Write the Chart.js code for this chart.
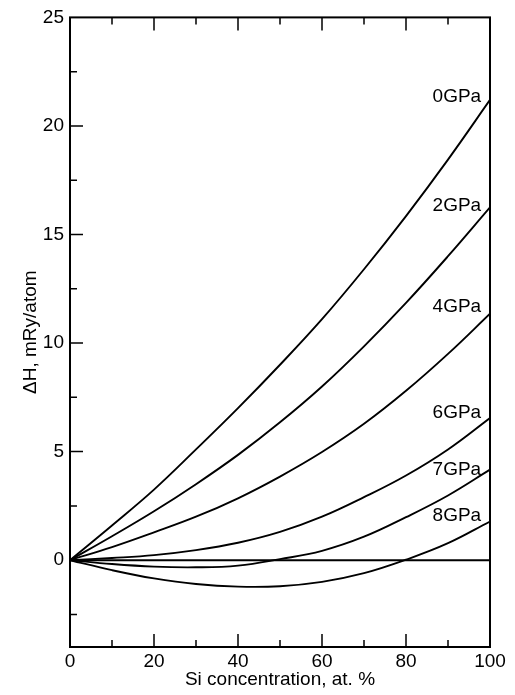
<!DOCTYPE html>
<html>
<head>
<meta charset="utf-8">
<script src="https://cdn.jsdelivr.net/npm/chart.js@4/dist/chart.umd.min.js"></script>
<style>
  html, body { margin: 0; padding: 0; background: #fff; }
</style>
</head>
<body>
<canvas id="enthalpy" width="515" height="695"></canvas>
<script>
// Si concentration, at. %
const concentration = [0, 10, 20, 30, 40, 50, 60, 70, 80, 90, 100];

// formation enthalpy (mRy/atom) for each pressure
const pressures = ["0GPa", "2GPa", "4GPa", "6GPa", "7GPa", "8GPa"];
const dH0 = [0, 1.6, 3.25, 5.1, 7.0, 9.0, 11.1, 13.4, 15.85, 18.45, 21.2];
const dH2 = [0, 1.1, 2.25, 3.5, 4.85, 6.35, 8.0, 9.85, 11.85, 14.0, 16.25];
const dH4 = [0, 0.6, 1.28, 2.0, 2.85, 3.85, 4.98, 6.28, 7.8, 9.5, 11.35];
const dH6 = [0, 0.1, 0.23, 0.46, 0.8, 1.3, 2.0, 2.9, 3.9, 5.1, 6.55];
const dH7 = [0, -0.18, -0.3, -0.33, -0.25, 0.05, 0.43, 1.08, 1.98, 2.98, 4.17];
const dH8 = [0, -0.46, -0.84, -1.1, -1.22, -1.2, -1.0, -0.6, 0.02, 0.78, 1.78];
const curves = [dH0, dH2, dH4, dH6, dH7, dH8];

// axis ticks
const xTicks = [0, 20, 40, 60, 80, 100];
const xMinorTicks = [10, 30, 50, 70, 90];
const yTicks = [0, 5, 10, 15, 20, 25];
const yMinorTicks = [-2.5, 2.5, 7.5, 12.5, 17.5, 22.5];

// where the pressure names sit (data units, right-aligned)
const labelX = 97.9;
const labelY = [21.34, 16.32, 11.68, 6.8, 4.18, 2.06];

const FONT = "'Liberation Sans', Arial, Helvetica, sans-serif";

const datasets = curves.map((vals, i) => ({
    label: pressures[i],
    data: vals.map((v, j) => ({ x: concentration[j], y: v })),
    borderColor: "#000",
    borderWidth: 1.9,
    pointRadius: 0,
    tension: 0.4,
}));

// zero reference line
datasets.push({
    label: "zero",
    data: [{ x: 0, y: 0 }, { x: 100, y: 0 }],
    borderColor: "#000",
    borderWidth: 2,
    pointRadius: 0,
});

// frame with inward ticks + curve names
const frame = {
    id: "frame",
    afterDatasetsDraw(chart) {
        const { ctx, chartArea: a, scales: { x, y } } = chart;
        ctx.save();
        ctx.strokeStyle = "#000";
        ctx.lineWidth = 1.5;
        ctx.beginPath();
        const vTick = (v, len) => {
            const px = x.getPixelForValue(v);
            ctx.moveTo(px, a.top);
            ctx.lineTo(px, a.top + len);
            ctx.moveTo(px, a.bottom);
            ctx.lineTo(px, a.bottom - len);
        };
        const hTick = (v, len) => {
            const py = y.getPixelForValue(v);
            ctx.moveTo(a.left, py);
            ctx.lineTo(a.left + len, py);
        };
        xTicks.slice(1, -1).forEach(v => vTick(v, 13));
        xMinorTicks.forEach(v => vTick(v, 7));
        yTicks.slice(1, -1).forEach(v => hTick(v, 13));
        yMinorTicks.forEach(v => hTick(v, 7));
        ctx.stroke();

        ctx.lineWidth = 2;
        ctx.strokeRect(a.left, a.top, a.right - a.left, a.bottom - a.top);

        ctx.fillStyle = "#000";
        ctx.font = "19px " + FONT;
        ctx.textAlign = "right";
        ctx.textBaseline = "middle";
        pressures.forEach((p, i) => {
            ctx.fillText(p, x.getPixelForValue(labelX), y.getPixelForValue(labelY[i]));
        });
        ctx.restore();
    },
};

new Chart(document.getElementById("enthalpy"), {
    type: "line",
    data: { datasets },
    plugins: [frame],
    options: {
        responsive: false,
        animation: false,
        devicePixelRatio: 1,
        layout: { padding: { top: 14, right: 25, left: 0, bottom: 0 } },
        plugins: {
            legend: { display: false },
            tooltip: { enabled: false },
        },
        scales: {
            x: {
                type: "linear",
                min: 0,
                max: 100,
                afterFit: (s) => { s.height = 48; },
                afterBuildTicks: (s) => { s.ticks = xTicks.map(v => ({ value: v })); },
                grid: { display: false, drawTicks: false },
                border: { display: false },
                ticks: {
                    padding: 3.6,
                    color: "#000",
                    font: { family: FONT, size: 19 },
                    maxRotation: 0,
                },
                title: {
                    display: true,
                    text: "Si concentration, at. %",
                    color: "#000",
                    font: { family: FONT, size: 19 },
                    padding: { top: 0, bottom: 4 },
                },
            },
            y: {
                type: "linear",
                min: -4,
                max: 25,
                afterFit: (s) => { s.width = 70; },
                afterBuildTicks: (s) => { s.ticks = yTicks.map(v => ({ value: v })); },
                grid: { display: false, drawTicks: false },
                border: { display: false },
                ticks: {
                    padding: 6,
                    color: "#000",
                    font: { family: FONT, size: 19 },
                },
                title: {
                    display: true,
                    text: "ΔH, mRy/atom",
                    color: "#000",
                    font: { family: FONT, size: 19 },
                    padding: { top: 19.6, bottom: 0 },
                },
            },
        },
    },
});
</script>
</body>
</html>
